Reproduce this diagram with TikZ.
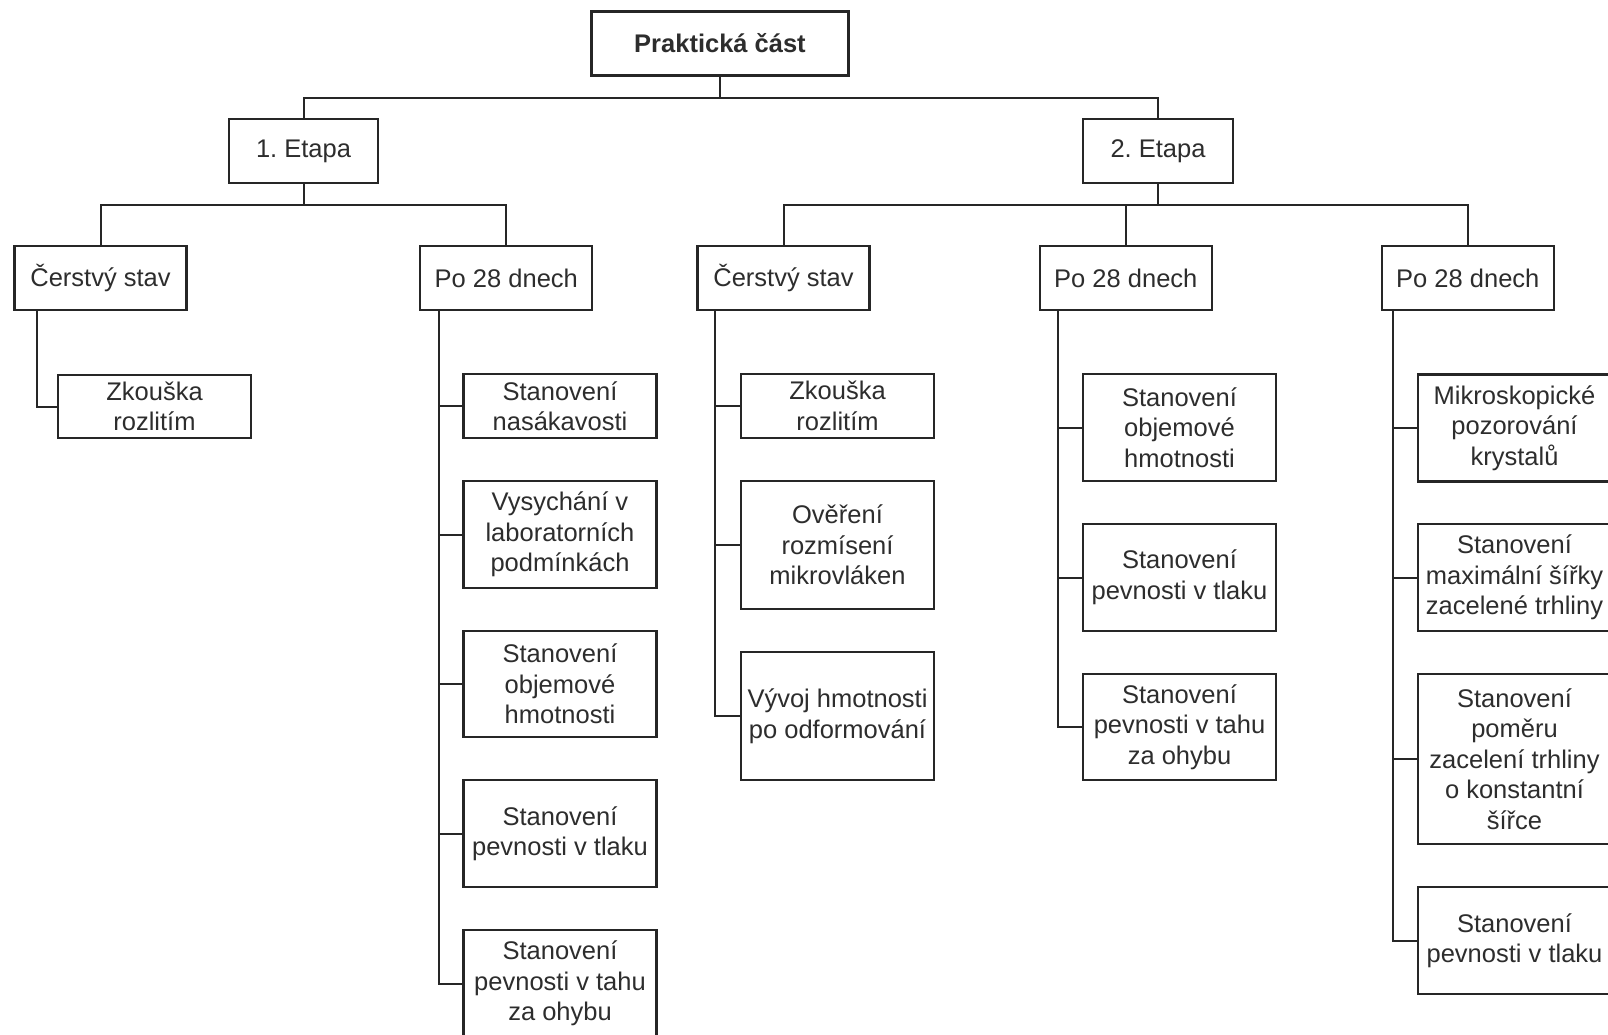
\documentclass[tikz,border=0pt]{standalone}
\usepackage{fontspec}
\setmainfont{Liberation Sans}
\frenchspacing
\definecolor{ink}{RGB}{38,38,38}
\definecolor{txt}{RGB}{45,45,45}
\begin{document}
\begin{tikzpicture}[x=1pt,y=-1pt,
  box/.style={draw=ink, line width=2.2pt, fill=white, align=center, inner sep=0pt,
    text=txt, font=\fontsize{25.5pt}{30.5pt}\selectfont},
  lvl/.style={box, minimum width=172pt, minimum height=64pt},
  leaf/.style={box, minimum width=193pt, minimum height=#1},
  conn/.style={draw=ink, line width=2pt}]
\useasboundingbox (0,0) rectangle (1608,1035);
\clip (0,0) rectangle (1608,1035);
\fill[white] (0,0) rectangle (1608,1035);

% top levels
\node[box, minimum width=257pt, minimum height=64pt, font=\fontsize{25.5pt}{30.5pt}\selectfont\bfseries] (root) at (720,43.5) {Praktická část};
\node[box, minimum width=149pt, minimum height=64pt] (e1) at (303.5,151) {1. Etapa};
\node[box, minimum width=150pt, minimum height=64pt] (e2) at (1158,151) {2. Etapa};

\node[lvl] (c1) at (100.5,278) {Čerstvý stav};
\node[lvl] (p1) at (506.3,278) {Po 28 dnech};
\node[lvl] (c2) at (783.5,278) {Čerstvý stav};
\node[lvl] (p2) at (1125.8,278) {Po 28 dnech};
\node[lvl] (p3) at (1467.8,278) {Po 28 dnech};

% leaves
\node[leaf=63pt] (c1a) at (154.5,406.5) {Zkouška\\rozlitím};

\node[leaf=64pt] (p1a) at (560,406) {Stanovení\\nasákavosti};
\node[leaf=107pt] (p1b) at (560,534.5) {Vysychání v\\laboratorních\\podmínkách};
\node[leaf=106pt] (p1c) at (560,684) {Stanovení\\objemové\\hmotnosti};
\node[leaf=107pt] (p1d) at (560,833.5) {Stanovení\\pevnosti v tlaku};
\node[leaf=107pt] (p1e) at (560,983.5) {Stanovení\\pevnosti v tahu\\za ohybu};

\node[leaf=64pt] (c2a) at (837.5,406) {Zkouška\\rozlitím};
\node[leaf=128pt] (c2b) at (837.5,545) {Ověření\\rozmísení\\mikrovláken};
\node[leaf=128pt] (c2c) at (837.5,716) {Vývoj hmotnosti\\po odformování};

\node[leaf=107pt] (p2a) at (1179.5,427.5) {Stanovení\\objemové\\hmotnosti};
\node[leaf=107pt] (p2b) at (1179.5,577.5) {Stanovení\\pevnosti v tlaku};
\node[leaf=106pt] (p2c) at (1179.5,727) {Stanovení\\pevnosti v tahu\\za ohybu};

\node[leaf=107pt] (p3a) at (1514.5,428) {Mikroskopické\\pozorování\\krystalů};
\node[leaf=107pt] (p3b) at (1514.5,577.5) {Stanovení\\maximální šířky\\zacelené trhliny};
\node[leaf=170pt] (p3c) at (1514.5,759) {Stanovení\\poměru\\zacelení trhliny\\o konstantní\\šířce};
\node[leaf=107pt] (p3d) at (1514.5,940.5) {Stanovení\\pevnosti v tlaku};

% tree connectors
\draw[conn] (root.south) -- ++(0,21.5) -| (e1.north);
\draw[conn] (root.south) -- ++(0,21.5) -| (e2.north);
\draw[conn] (e1.south) -- ++(0,21) -| (c1.north);
\draw[conn] (e1.south) -- ++(0,21) -| (p1.north);
\draw[conn] (e2.south) -- ++(0,21) -| (c2.north);
\draw[conn] (e2.south) -- ++(0,21) -| (p2.north);
\draw[conn] (e2.south) -- ++(0,21) -| (p3.north);

% spines
\coordinate (sc1) at (37,310);
\coordinate (sp1) at (439.3,310);
\coordinate (sc2) at (715,310);
\coordinate (sp2) at (1058.3,310);
\coordinate (sp3) at (1393.3,310);

\draw[conn] (sc1) |- (c1a.west);
\foreach \n in {p1a,p1b,p1c,p1d,p1e} \draw[conn] (sp1) |- (\n.west);
\foreach \n in {c2a,c2b,c2c} \draw[conn] (sc2) |- (\n.west);
\foreach \n in {p2a,p2b,p2c} \draw[conn] (sp2) |- (\n.west);
\foreach \n in {p3a,p3b,p3c,p3d} \draw[conn] (sp3) |- (\n.west);
\end{tikzpicture}
\end{document}
